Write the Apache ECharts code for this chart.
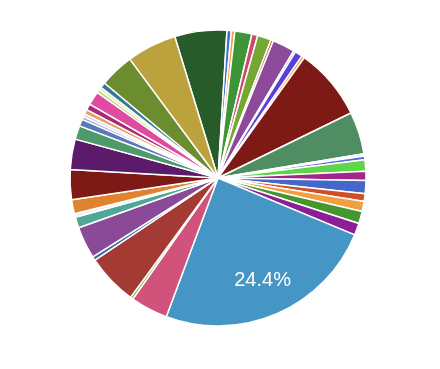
<!DOCTYPE html>
<html>
<head>
<meta charset="utf-8">
<script src="https://cdn.jsdelivr.net/npm/echarts@6/dist/echarts.min.js"></script>
<style>html,body{margin:0;padding:0;background:#fff;}#c{width:440px;height:369px;}</style>
</head>
<body>
<div id="c"></div>
<script>
const categories = ["S1","S2","S3","S4","S5","S6","S7","S8","S9","S10","S11","S12","S13","S14","S15","S16","S17","S18","S19","S20","S21","S22","S23","S24","S25","S26","S27","S28","S29","S30","S31","S32","S33","S34","S35","S36","S37","S38","S39","S40","S41","S42","S43","S44","S45"];
const values = [5.69,0.47,0.39,1.86,0.64,1.50,0.28,2.44,0.22,0.83,0.31,7.86,4.61,0.25,0.42,1.22,1.00,1.44,0.83,1.11,1.33,1.31,24.4,4.08,0.31,5.56,0.42,3.50,1.17,0.39,1.53,3.28,3.31,1.50,0.75,0.33,0.33,0.50,0.67,1.50,0.36,0.31,0.61,3.75,5.44];
const colors = ["#275b29","#3b6fd6","#f5a442","#3d9536","#d1466e","#74a832","#d8573a","#8e4a9a","#6bb5a5","#5a3fd8","#f0913a","#7e1a16","#4f8e63","#e4e4f4","#5a6ad8","#5fd64a","#a2258a","#4468c9","#d14f26","#f0a040","#46962f","#8b1f99","#4596c4","#d1527a","#8ab846","#a33a34","#3a6aa0","#8b4a98","#4ea898","#eef2f0","#e0822e","#7e1a16","#5b1a6a","#4d9a6a","#5a7ab8","#a8a8e0","#c8d8f0","#e8a060","#a82a7a","#e04aa0","#b8d878","#e8e8a0","#3a7898","#6c8c30","#bba23c"];

const data = categories.map((n, i) => ({ name: n, value: values[i], itemStyle: { color: colors[i] } }));
const labelData = categories.map((n, i) => ({ name: n, value: values[i] }));

const chart = echarts.init(document.getElementById('c'), null, { renderer: 'canvas' });
chart.setOption({
  animation: false,
  backgroundColor: '#ffffff',
  series: [
    {
      type: 'pie',
      center: [218, 178],
      radius: [0, 148],
      startAngle: 107,
      clockwise: true,
      avoidLabelOverlap: false,
      label: { show: false },
      labelLine: { show: false },
      itemStyle: { borderColor: '#ffffff', borderWidth: 1.5 },
      data: data
    },
    {
      type: 'pie',
      center: [218, 178],
      radius: [70, 148],
      startAngle: 107,
      clockwise: true,
      silent: true,
      percentPrecision: 1,
      avoidLabelOverlap: false,
      minShowLabelAngle: 30,
      itemStyle: { color: 'rgba(0,0,0,0)', borderWidth: 0 },
      labelLine: { show: false },
      label: {
        show: true,
        position: 'inside',
        formatter: '{d}%',
        color: '#ffffff',
        fontSize: 20,
        fontFamily: 'Liberation Sans, Arial, sans-serif'
      },
      data: labelData
    }
  ]
});
</script>
</body>
</html>
